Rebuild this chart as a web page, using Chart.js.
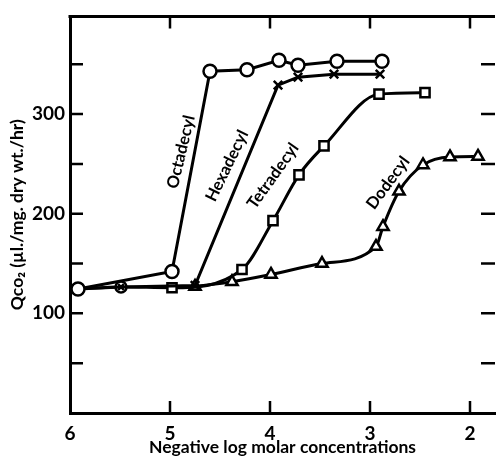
<!DOCTYPE html>
<html>
<head>
<meta charset="utf-8">
<script src="https://cdn.jsdelivr.net/npm/chart.js@4.4.1/dist/chart.umd.min.js"></script>
<style>
  html, body { margin: 0; padding: 0; background: #fff; overflow: hidden; }
  #wrap { width: 504px; height: 458px; }
</style>
</head>
<body>
<div id="wrap"><canvas id="myChart" width="504" height="458"></canvas></div>
<script>
// values
const octX = [5.92, 4.98, 4.60, 4.23, 3.91, 3.72, 3.33, 2.88];
const octY = [124.5, 142, 343, 344.5, 354, 349, 353, 353];

const hexX = [5.92, 5.49, 4.75, 3.92, 3.72, 3.36, 2.90];
const hexY = [124.5, 126.5, 128, 329, 337, 340, 340];

const tetX = [5.92, 5.49, 4.98, 4.28, 3.97, 3.71, 3.46, 2.91, 2.45];
const tetY = [124.5, 126.5, 125.7, 144, 193, 239, 268, 320, 321.5];

const dodX = [4.75, 4.38, 3.99, 3.48, 2.94, 2.87, 2.71, 2.47, 2.20, 1.92];
const dodY = [127, 131.7, 139, 150, 167, 187, 222.5, 249, 257, 257.5];

const xTicks = [6, 5, 4, 3, 2];
const yTicks = [50, 100, 150, 200, 250, 300, 350];
const yLabels = [100, 200, 300];

const seriesNames = ["Octadecyl", "Hexadecyl", "Tetradecyl", "Dodecyl"];

function pts(xs, ys) {
  return xs.map((x, i) => ({ x: x, y: ys[i] }));
}

const FONT = "Lato, 'Open Sans', sans-serif";

// ticks pointing inwards + top frame line + the curve labels
const frame = {
  id: "frame",
  afterDraw(chart) {
    const c = chart.ctx;
    const a = chart.chartArea;
    const xs = chart.scales.x, ys = chart.scales.y;
    c.save();
    c.strokeStyle = "#000";
    c.lineWidth = 3;
    c.beginPath();
    c.moveTo(a.left - 1.5, a.top);
    c.lineTo(a.right, a.top);
    c.stroke();
    c.lineWidth = 2.5;
    c.beginPath();
    xTicks.forEach(v => {
      if (v === 6) return;
      const px = xs.getPixelForValue(v);
      c.moveTo(px, a.bottom); c.lineTo(px, a.bottom - 12);
      c.moveTo(px, a.top); c.lineTo(px, a.top + 12);
    });
    yTicks.forEach(v => {
      const py = ys.getPixelForValue(v);
      c.moveTo(a.left, py); c.lineTo(a.left + 13, py);
      c.moveTo(a.right, py); c.lineTo(a.right - 14, py);
    });
    c.stroke();

    // curve labels
    c.fillStyle = "#000";
    c.font = "bold 16.5px " + FONT;
    c.textAlign = "center";
    c.textBaseline = "middle";
    const lab = [
      [seriesNames[0], 4.89, 262, -76.5],
      [seriesNames[1], 4.43, 248, -64],
      [seriesNames[2], 3.97, 238, -54.5],
      [seriesNames[3], 2.82, 231, -53.5]
    ];
    lab.forEach(l => {
      c.save();
      c.translate(xs.getPixelForValue(l[1]), ys.getPixelForValue(l[2]));
      c.rotate(l[3] * Math.PI / 180);
      c.fillText(l[0], 0, 0);
      c.restore();
    });
    c.restore();
  }
};

const base = {
  borderColor: "#000",
  borderWidth: 3,
  pointBackgroundColor: "#fff",
  pointBorderColor: "#000",
  pointBorderWidth: 2.5,
  fill: false
};

let chart = document.getElementById("myChart").getContext("2d");

const myChart = new Chart(chart, {
  type: "line",
  data: {
    datasets: [
      Object.assign({}, base, {
        label: seriesNames[0],
        data: pts(octX, octY),
        pointStyle: "circle",
        pointRadius: 6.5,
        tension: 0
      }),
      Object.assign({}, base, {
        label: seriesNames[1],
        data: pts(hexX, hexY),
        pointStyle: "crossRot",
        pointRadius: ctx => ctx.dataIndex === 0 ? 0 : (ctx.dataIndex === 1 ? 4 : 6),
        tension: 0
      }),
      Object.assign({}, base, {
        label: seriesNames[2],
        data: pts(tetX, tetY),
        pointStyle: ctx => ctx.dataIndex === 1 ? "circle" : "rect",
        pointRadius: ctx => ctx.dataIndex === 0 ? 0 : (ctx.dataIndex === 1 ? 5.5 : 6.5),
        cubicInterpolationMode: "monotone"
      }),
      Object.assign({}, base, {
        label: seriesNames[3],
        data: pts(dodX, dodY),
        pointStyle: "triangle",
        pointRadius: 6.5,
        cubicInterpolationMode: "monotone"
      })
    ]
  },
  options: {
    responsive: false,
    animation: false,
    layout: { padding: { top: 11, right: 5, left: 0, bottom: 0 } },
    plugins: { legend: { display: false }, tooltip: { enabled: false } },
    scales: {
      x: {
        type: "linear",
        reverse: true,
        min: 1.75,
        max: 6,
        afterBuildTicks: s => { s.ticks = xTicks.map(v => ({ value: v })); },
        afterFit: s => { s.height = 45; },
        grid: { display: false, drawTicks: false },
        border: { display: true, color: "#000", width: 3 },
        ticks: {
          color: "#000",
          padding: 9,
          font: { family: FONT, size: 19, weight: "bold" }
        },
        title: {
          display: true,
          text: "Negative log molar concentrations",
          color: "#000",
          padding: { top: 0, bottom: 0 },
          font: { family: FONT, size: 17.5, weight: "bold" }
        }
      },
      y: {
        type: "linear",
        min: 0,
        max: 398,
        afterBuildTicks: s => { s.ticks = yTicks.map(v => ({ value: v })); },
        afterFit: s => { s.width = 70; },
        grid: { display: false, drawTicks: false },
        border: { display: true, color: "#000", width: 3 },
        ticks: {
          color: "#000",
          padding: 5,
          font: { family: FONT, size: 19, weight: "bold" },
          callback: v => yLabels.includes(v) ? String(v) : ""
        },
        title: {
          display: true,
          text: "Qco₂ (µl./mg. dry wt./hr)",
          color: "#000",
          padding: { top: 7, bottom: 0 },
          font: { family: FONT, size: 17.5, weight: "bold" }
        }
      }
    }
  },
  plugins: [frame]
});
window.myChart = myChart;
</script>
</body>
</html>
